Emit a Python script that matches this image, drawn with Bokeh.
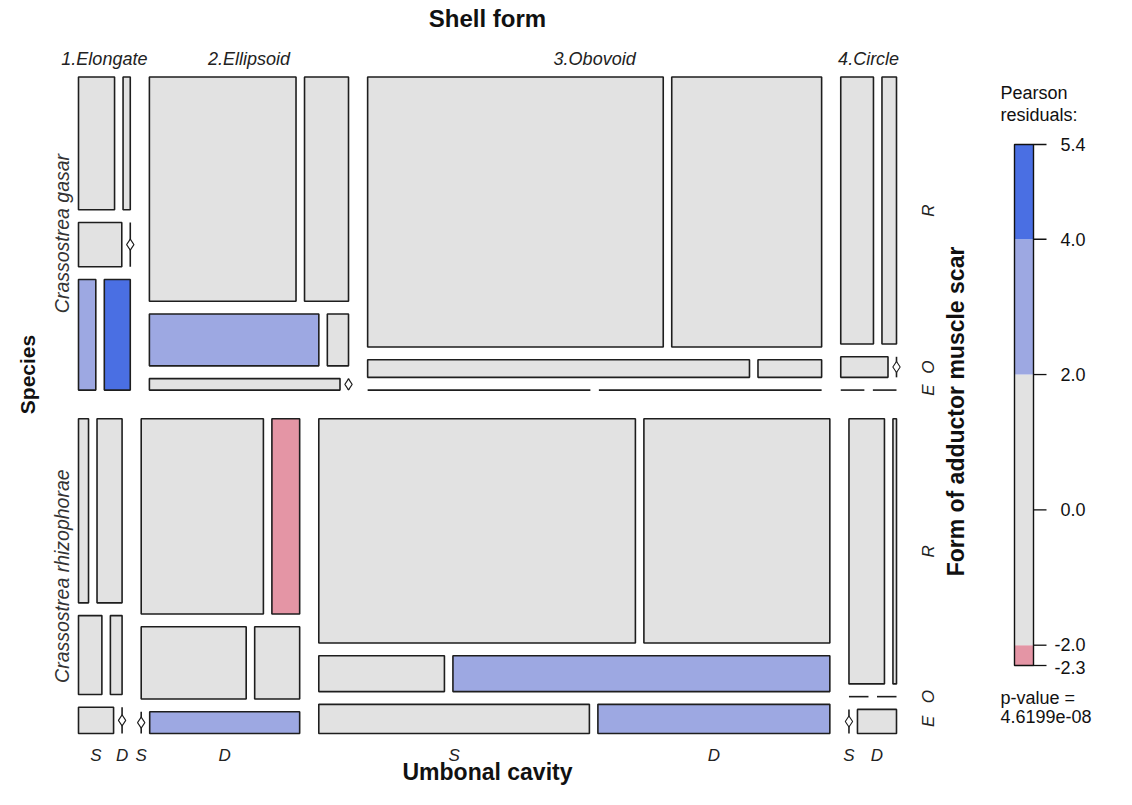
import numpy as np
from bokeh.plotting import figure
from bokeh.models import Range1d
from bokeh.embed import file_html
from bokeh.resources import INLINE
from bokeh.core.properties import value

# ---------------- data ----------------
species = ["Crassostrea gasar", "Crassostrea rhizophorae"]
shell_forms = ["1.Elongate", "2.Ellipsoid", "3.Obovoid", "4.Circle"]
scar_forms = ["R", "O", "E"]          # Form of adductor muscle scar
umbonal = ["S", "D"]                  # Umbonal cavity

# counts per shell form: rows = scar form (R, O, E), cols = umbonal cavity (S, D)
gasar_elongate = [[5, 1], [2, 0], [2, 3]]
gasar_ellipsoid = [[30, 9], [8, 1], [2, 0]]
gasar_obovoid = [[71, 36], [6, 1], [0, 0]]
gasar_circle = [[9, 4], [1, 0], [0, 0]]

rhizo_elongate = [[2, 5], [2, 1], [1, 0]]
rhizo_ellipsoid = [[22, 5], [7, 3], [0, 3]]
rhizo_obovoid = [[63, 37], [4, 12], [7, 6]]
rhizo_circle = [[10, 1], [0, 0], [0, 1]]

legend_range = [-2.3, 5.4]
legend_ticks = [5.4, 4.0, 2.0, 0.0, -2.0, -2.3]
p_value_text = "4.6199e-08"

counts = np.array([
    [gasar_elongate, gasar_ellipsoid, gasar_obovoid, gasar_circle],
    [rhizo_elongate, rhizo_ellipsoid, rhizo_obovoid, rhizo_circle],
], dtype=float)

# ---------------- Pearson residuals (mutual independence) ----------------
N = counts.sum()
m1 = counts.sum(axis=(1, 2, 3)) / N
m2 = counts.sum(axis=(0, 2, 3)) / N
m3 = counts.sum(axis=(0, 1, 3)) / N
m4 = counts.sum(axis=(0, 1, 2)) / N
expected = N * np.einsum("i,j,k,l->ijkl", m1, m2, m3, m4)
resid = (counts - expected) / np.sqrt(expected)

def shade(r):
    if r > 4:
        return "#4A6FE3"
    if r > 2:
        return "#9DA8E2"
    if r < -4:
        return "#D33F6A"
    if r < -2:
        return "#E495A5"
    return "#E2E2E2"

# ---------------- mosaic layout ----------------
X0, X1 = 78.0, 896.0
Y0, Y1 = 76.5, 733.0
BASE = 8.5
gaps = [BASE * 1.5 ** 3, BASE * 1.5 ** 2, BASE * 1.5, BASE]

def split(a, b, weights, gap):
    w = np.asarray(weights, dtype=float)
    n = len(w)
    tot = w.sum()
    p = w / tot if tot > 0 else np.full(n, 1.0 / n)
    avail = (b - a) - gap * (n - 1)
    out, pos = [], a
    for pi in p:
        size = avail * pi
        out.append((pos, pos + size))
        pos += size + gap
    return out

quads = dict(left=[], right=[], top=[], bottom=[], color=[])
vseg = dict(x0=[], y0=[], x1=[], y1=[])
hseg = dict(x0=[], y0=[], x1=[], y1=[])
dia = dict(x=[], y=[])
top_labels, left_labels, bottom_labels, right_labels = [], [], [], []

sp_rows = split(Y0, Y1, counts.sum(axis=(1, 2, 3)), gaps[0])
for i, (yt, yb) in enumerate(sp_rows):
    left_labels.append((species[i], (yt + yb) / 2))
    sh_cols = split(X0, X1, counts[i].sum(axis=(1, 2)), gaps[1])
    for j, (xl, xr) in enumerate(sh_cols):
        if i == 0:
            top_labels.append((shell_forms[j], (xl + xr) / 2))
        sc_rows = split(yt, yb, counts[i, j].sum(axis=1), gaps[2])
        for k, (rt, rb) in enumerate(sc_rows):
            if j == len(shell_forms) - 1:
                right_labels.append((scar_forms[k], (rt + rb) / 2))
            row_total = counts[i, j, k].sum()
            um_cols = split(xl, xr, counts[i, j, k], gaps[3])
            for l, (cl, cr) in enumerate(um_cols):
                if i == len(species) - 1 and k == len(scar_forms) - 1:
                    bottom_labels.append((umbonal[l], (cl + cr) / 2))
                c = counts[i, j, k, l]
                if c > 0:
                    quads["left"].append(cl)
                    quads["right"].append(cr)
                    quads["top"].append(rt)
                    quads["bottom"].append(rb)
                    quads["color"].append(shade(resid[i, j, k, l]))
                elif row_total > 0:
                    vseg["x0"].append(cl); vseg["x1"].append(cl)
                    vseg["y0"].append(rt); vseg["y1"].append(rb)
                    dia["x"].append(cl); dia["y"].append((rt + rb) / 2)
                else:
                    hseg["x0"].append(cl); hseg["x1"].append(cr)
                    hseg["y0"].append(rt); hseg["y1"].append(rt)

# ---------------- figure ----------------
W, H = 1116, 789
p = figure(width=W, height=H, x_range=Range1d(0, W), y_range=Range1d(H, 0),
           output_backend="svg", toolbar_location=None, min_border=0)
p.axis.visible = False
p.grid.visible = False
p.outline_line_color = None
p.background_fill_color = "white"

FONT = value("Liberation Sans")
EDGE = "#1e1e1e"

p.quad(left="left", right="right", top="top", bottom="bottom", fill_color="color",
       line_color=EDGE, line_width=1.6, source=quads)
p.segment(x0="x0", y0="y0", x1="x1", y1="y1", line_color=EDGE, line_width=1.6, source=vseg)
p.segment(x0="x0", y0="y0", x1="x1", y1="y1", line_color=EDGE, line_width=1.6, source=hseg)
p.scatter(x="x", y="y", marker="diamond", size=11, fill_color="white", line_color=EDGE,
          line_width=1.1, source=dia)

def txt(x, y, s, size, style="normal", angle=0.0, align="center", baseline="middle", color="#111111"):
    p.text(x=[x], y=[y], text=[s], text_font=FONT, text_font_size=f"{size}px",
           text_font_style=style, angle=angle, text_align=align, text_baseline=baseline,
           text_color=color)

# variable names
txt((X0 + X1) / 2, 18, "Shell form", 24, "bold")
txt((X0 + X1) / 2, 771, "Umbonal cavity", 23, "bold")
txt(27, 374, "Species", 21, "bold", angle=np.pi / 2)
txt(955, 411, "Form of adductor muscle scar", 23, "bold", angle=np.pi / 2)

# level labels
for s, x in top_labels:
    txt(x, 58, s, 18, "italic", color="#222222")
for s, y in left_labels:
    txt(61, y, s, 19.5, "italic", angle=np.pi / 2, color="#333333")
for s, x in bottom_labels:
    txt(x, 755, s, 17, "italic", color="#222222")
for s, y in right_labels:
    txt(928, y, s, 17, "italic", angle=np.pi / 2, color="#222222")

# ---------------- legend ----------------
LX0, LX1 = 1014, 1033
LY_TOP, LY_BOT = 144, 665
lo, hi = legend_range

def ly(v):
    return LY_TOP + (hi - v) / (hi - lo) * (LY_BOT - LY_TOP)

bands = [(-2.3, -2.0), (-2.0, 2.0), (2.0, 4.0), (4.0, 5.4)]
for a, b in bands:
    mid = (a + b) / 2
    p.quad(left=[LX0], right=[LX1], top=[ly(b)], bottom=[ly(a)], fill_color=shade(mid),
           line_color=None)
p.quad(left=[LX0], right=[LX1], top=[ly(hi)], bottom=[ly(lo)], fill_color=None,
       line_color="#111111", line_width=1.4)
for t in legend_ticks:
    p.segment(x0=[LX1], y0=[ly(t)], x1=[LX1 + 13], y1=[ly(t)], line_color="#111111", line_width=1.3)
    txt(1085, ly(t) + (-1 if t == -2.0 else (2 if t == -2.3 else 0)), f"{t:.1f}", 18, align="right")

txt(1000, 92, "Pearson", 18, align="left")
txt(1000, 114, "residuals:", 18, align="left")
txt(1000, 697, "p-value =", 18, align="left")
txt(1000, 716, p_value_text, 18, align="left")

open("out.html", "w").write(file_html(p, INLINE))
